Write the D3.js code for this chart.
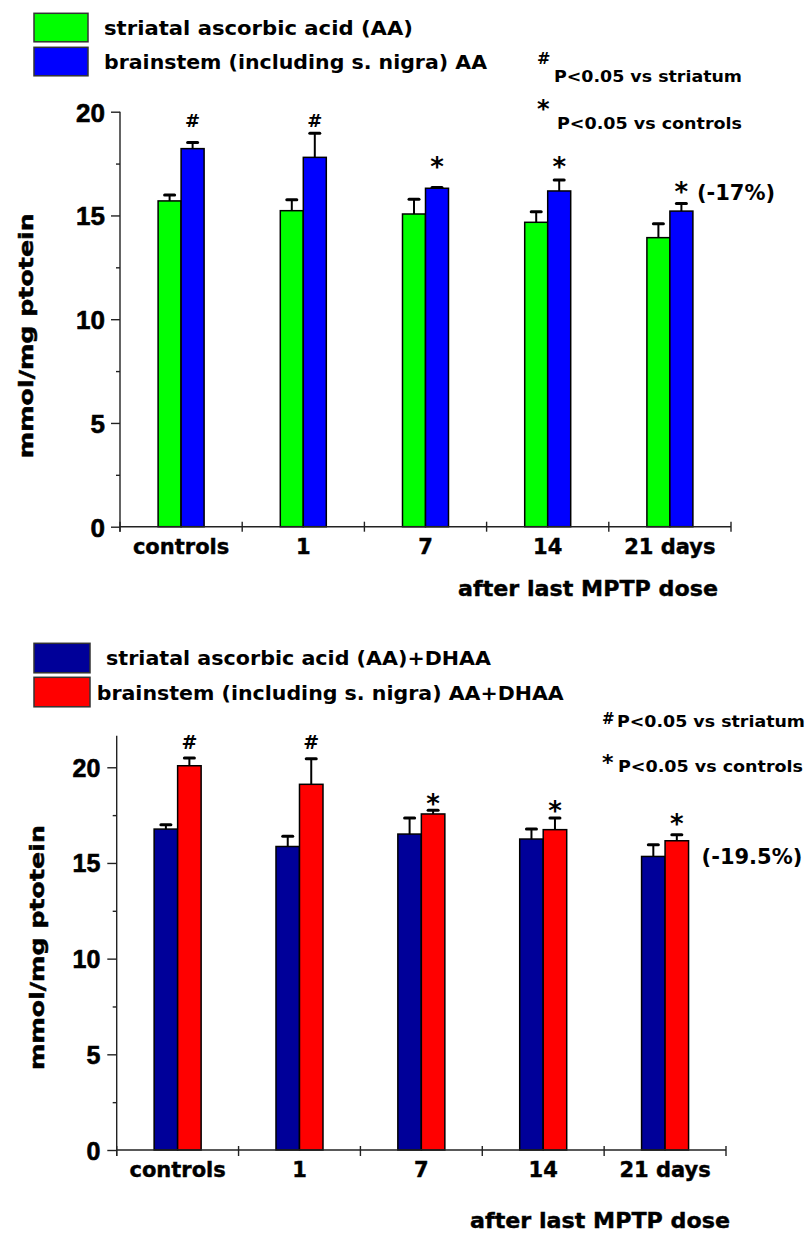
<!DOCTYPE html>
<html>
<head>
<meta charset="utf-8">
<script src="https://cdn.jsdelivr.net/npm/d3@7/dist/d3.min.js"></script>
<style>
  html, body { margin: 0; padding: 0; background: #fff; }
  svg { display: block; }
  text { font-family: 'DejaVu Sans', sans-serif; font-weight: bold; fill: #000; }
</style>
</head>
<body>
<svg id="chart" width="808" height="1233"></svg>
<script>
// ---------------- DATA ----------------
const categories = ["controls", "1", "7", "14", "21 days"];
const yTicks = [0, 5, 10, 15, 20];
const yMinorTicks = [2.5, 7.5, 12.5, 17.5];

// Panel A: ascorbic acid (AA)
const aaLegend = ["striatal ascorbic acid (AA)", "brainstem (including s. nigra) AA"];
const aaStriatal = [15.70, 15.23, 15.07, 14.67, 13.93];
const aaStriatalErr = [0.29, 0.53, 0.71, 0.51, 0.67];
const aaBrainstem = [18.22, 17.80, 16.31, 16.18, 15.21];
const aaBrainstemErr = [0.29, 1.16, 0.04, 0.53, 0.37];
const aaMarks = [
  { cat: "controls", series: 1, mark: "#", level: 19.57 },
  { cat: "1", series: 1, mark: "#", level: 19.57 },
  { cat: "7", series: 1, mark: "*", level: 17.59 },
  { cat: "14", series: 1, mark: "*", level: 17.59 },
  { cat: "21 days", series: 1, mark: "*", level: 16.37 }
];
const aaChange = { cat: "21 days", text: "(-17%)", level: 16.08 };

// Panel B: AA + DHAA
const dhLegend = ["striatal ascorbic acid (AA)+DHAA", "brainstem (including s. nigra) AA+DHAA"];
const dhStriatal = [16.77, 15.86, 16.51, 16.25, 15.34];
const dhStriatalErr = [0.23, 0.53, 0.84, 0.52, 0.61];
const dhBrainstem = [20.08, 19.11, 17.56, 16.74, 16.16];
const dhBrainstemErr = [0.41, 1.34, 0.19, 0.61, 0.31];
const dhMarks = [
  { cat: "controls", series: 1, mark: "#", level: 21.29 },
  { cat: "1", series: 1, mark: "#", level: 21.29 },
  { cat: "7", series: 1, mark: "*", level: 18.36 },
  { cat: "14", series: 1, mark: "*", level: 17.96 },
  { cat: "21 days", series: 1, mark: "*", level: 17.31 }
];
const dhChange = { cat: "21 days", text: "(-19.5%)", level: 15.26 };

const sigNotes = ["P<0.05 vs striatum", "P<0.05 vs controls"];
const yLabel = "mmol/mg ptotein";
const xTitle = "after last MPTP dose";

// ---------------- DRAW ----------------
const svg = d3.select("#chart");

function drawPanel(o) {
  const g = svg.append("g");
  const x0 = d3.scaleBand().domain(categories).range(o.xRange).padding(0);
  const y = d3.scaleLinear().domain(o.yDomain).range(o.yRange);
  const series = [
    { vals: o.s0, errs: o.e0, color: o.colors[0] },
    { vals: o.s1, errs: o.e1, color: o.colors[1] }
  ];
  const barX = (cat, i) => x0(cat) + x0.bandwidth() / 2 - o.barW + i * o.barW;

  // legend
  o.legend.forEach((t, i) => {
    g.append("rect")
      .attr("x", o.legBox.x).attr("y", o.legBox.y[i])
      .attr("width", o.legBox.w).attr("height", o.legBox.h)
      .attr("fill", o.colors[i]).attr("stroke", "#333").attr("stroke-width", 1.5);
    g.append("text")
      .attr("x", o.legText.x[i]).attr("y", o.legText.y[i])
      .attr("font-size", 20)
      .attr("textLength", o.legText.len[i]).attr("lengthAdjust", "spacingAndGlyphs")
      .text(t);
  });

  // significance notes
  const symbols = ["#", "*"];
  sigNotes.forEach((t, i) => {
    g.append("text")
      .attr("x", o.note.symX).attr("y", o.note.symY[i])
      .attr("font-size", i === 0 ? o.note.hashSize : o.note.starSize)
      .text(symbols[i]);
    g.append("text")
      .attr("x", o.note.x[i]).attr("y", o.note.y[i])
      .attr("font-size", 16)
      .attr("textLength", o.note.len[i]).attr("lengthAdjust", "spacingAndGlyphs")
      .text(t);
  });

  // bars
  series.forEach((s, i) => {
    g.append("g").selectAll("rect").data(categories).join("rect")
      .attr("x", c => barX(c, i))
      .attr("y", (c, k) => y(s.vals[k]))
      .attr("width", o.barW)
      .attr("height", (c, k) => y(0) - y(s.vals[k]))
      .attr("fill", s.color)
      .attr("stroke", "#000").attr("stroke-width", 1.5);
  });

  // error bars
  series.forEach((s, i) => {
    const eg = g.append("g");
    categories.forEach((c, k) => {
      const cx = barX(c, i) + o.barW / 2;
      eg.append("line")
        .attr("x1", cx).attr("x2", cx)
        .attr("y1", y(s.vals[k])).attr("y2", y(s.vals[k] + s.errs[k]))
        .attr("stroke", "#000").attr("stroke-width", 2);
      eg.append("line")
        .attr("x1", cx - 5).attr("x2", cx + 5)
        .attr("y1", y(s.vals[k] + s.errs[k])).attr("y2", y(s.vals[k] + s.errs[k]))
        .attr("stroke", "#000").attr("stroke-width", 3).attr("stroke-linecap", "round");
    });
  });

  // y axis
  const yAxis = d3.axisLeft(y).tickValues(yTicks).tickSize(o.majorTick).tickSizeOuter(0)
    .tickFormat(d3.format("d")).tickPadding(o.tickPad);
  const ya = g.append("g").attr("transform", `translate(${o.xRange[0]},0)`).call(yAxis);
  ya.select(".domain").attr("stroke", "#222").attr("stroke-width", 1.4)
    .attr("d", `M0,${y(0) + o.xTickDown}V${o.yRange[1]}`);
  ya.selectAll(".tick line").attr("stroke", "#222").attr("stroke-width", 1.4);
  ya.selectAll(".tick text")
    .style("font-family", "'Liberation Sans', Arial, sans-serif")
    .attr("font-size", o.tickFont).attr("font-weight", "bold").attr("fill", "#000")
    .attr("stroke", "#000").attr("stroke-width", 0.6)
    .attr("dy", "0.36em");
  const ym = g.append("g").attr("transform", `translate(${o.xRange[0]},0)`)
    .call(d3.axisLeft(y).tickValues(yMinorTicks).tickSize(o.minorTick).tickSizeOuter(0).tickFormat(""));
  ym.select(".domain").remove();
  ym.selectAll(".tick line").attr("stroke", "#222").attr("stroke-width", 1.4);

  // x axis (group boundaries)
  const xa = g.append("g");
  xa.append("line")
    .attr("x1", o.xRange[0]).attr("x2", o.xRange[1])
    .attr("y1", y(0)).attr("y2", y(0))
    .attr("stroke", "#222").attr("stroke-width", 1.4);
  const bounds = categories.map(c => x0(c)).concat([x0.range()[1]]);
  xa.selectAll("line.b").data(bounds).join("line").attr("class", "b")
    .attr("x1", d => d).attr("x2", d => d)
    .attr("y1", y(0) - o.xTickUp).attr("y2", y(0) + o.xTickDown)
    .attr("stroke", "#222").attr("stroke-width", 1.4);
  xa.selectAll("text.cat").data(categories).join("text").attr("class", "cat")
    .attr("x", c => x0(c) + x0.bandwidth() / 2)
    .attr("y", o.catY)
    .attr("text-anchor", "middle")
    .attr("font-size", 21)
    .attr("stroke", "#000").attr("stroke-width", 0.4)
    .text(c => c);
  g.append("text")
    .attr("x", o.xTitle.x).attr("y", o.xTitle.y)
    .attr("font-size", 22)
    .attr("stroke", "#000").attr("stroke-width", 0.4)
    .attr("textLength", o.xTitle.len).attr("lengthAdjust", "spacingAndGlyphs")
    .text(xTitle);

  // y label
  g.append("text")
    .attr("transform", `translate(${o.yLab.x},${o.yLab.y}) rotate(-90)`)
    .attr("text-anchor", "middle")
    .attr("font-size", 20)
    .attr("stroke", "#000").attr("stroke-width", 0.5)
    .attr("textLength", 245).attr("lengthAdjust", "spacingAndGlyphs")
    .text(yLabel);

  // significance marks above bars
  g.append("g").selectAll("text").data(o.marks).join("text")
    .attr("x", d => barX(d.cat, d.series) + o.barW / 2)
    .attr("y", d => y(d.level))
    .attr("dy", d => d.mark === "#" ? "0.36em" : "0.54em")
    .attr("text-anchor", "middle")
    .attr("font-size", d => d.mark === "#" ? o.hashSize : 26)
    .text(d => d.mark);

  // percent change
  g.append("text")
    .attr("x", barX(o.change.cat, 1) + o.barW + o.changeGap)
    .attr("y", y(o.change.level))
    .attr("dy", "0.31em")
    .attr("font-size", 21)
    .text(o.change.text);
}

drawPanel({
  xRange: [120, 731], yDomain: [0, 20], yRange: [526.7, 111.7],
  barW: 23, colors: ["#00ff00", "#0000ff"],
  s0: aaStriatal, e0: aaStriatalErr, s1: aaBrainstem, e1: aaBrainstemErr,
  legend: aaLegend,
  legBox: { x: 34, y: [13.3, 47.3], w: 54, h: 28.5 },
  legText: { x: [104, 104], y: [35, 68.5], len: [309, 383] },
  note: { symX: 537, symY: [64, 117], hashSize: 16, starSize: 24,
          x: [554, 557], y: [81.7, 129.3], len: [188, 185] },
  majorTick: 9, minorTick: 4, tickPad: 6, tickFont: 26,
  xTickUp: 5, xTickDown: 5, catY: 554,
  xTitle: { x: 458, y: 596, len: 260 },
  yLab: { x: 33, y: 335.7 },
  marks: aaMarks, hashSize: 18,
  change: aaChange, changeGap: 4
});

drawPanel({
  xRange: [116.7, 726], yDomain: [0, 21.65], yRange: [1150, 735.7],
  barW: 23.5, colors: ["#000099", "#ff0000"],
  s0: dhStriatal, e0: dhStriatalErr, s1: dhBrainstem, e1: dhBrainstemErr,
  legend: dhLegend,
  legBox: { x: 34, y: [643.3, 677.3], w: 56, h: 29.5 },
  legText: { x: [106, 96.7], y: [665, 700], len: [385, 467] },
  note: { symX: 602, symY: [724, 770], hashSize: 15, starSize: 22,
          x: [617, 618], y: [726.7, 771.7], len: [188, 185] },
  majorTick: 9.4, minorTick: 4, tickPad: 7, tickFont: 25,
  xTickUp: 4, xTickDown: 6, catY: 1177,
  xTitle: { x: 470, y: 1228, len: 260 },
  yLab: { x: 44, y: 947.5 },
  marks: dhMarks, hashSize: 19,
  change: dhChange, changeGap: 13
});
</script>
</body>
</html>
